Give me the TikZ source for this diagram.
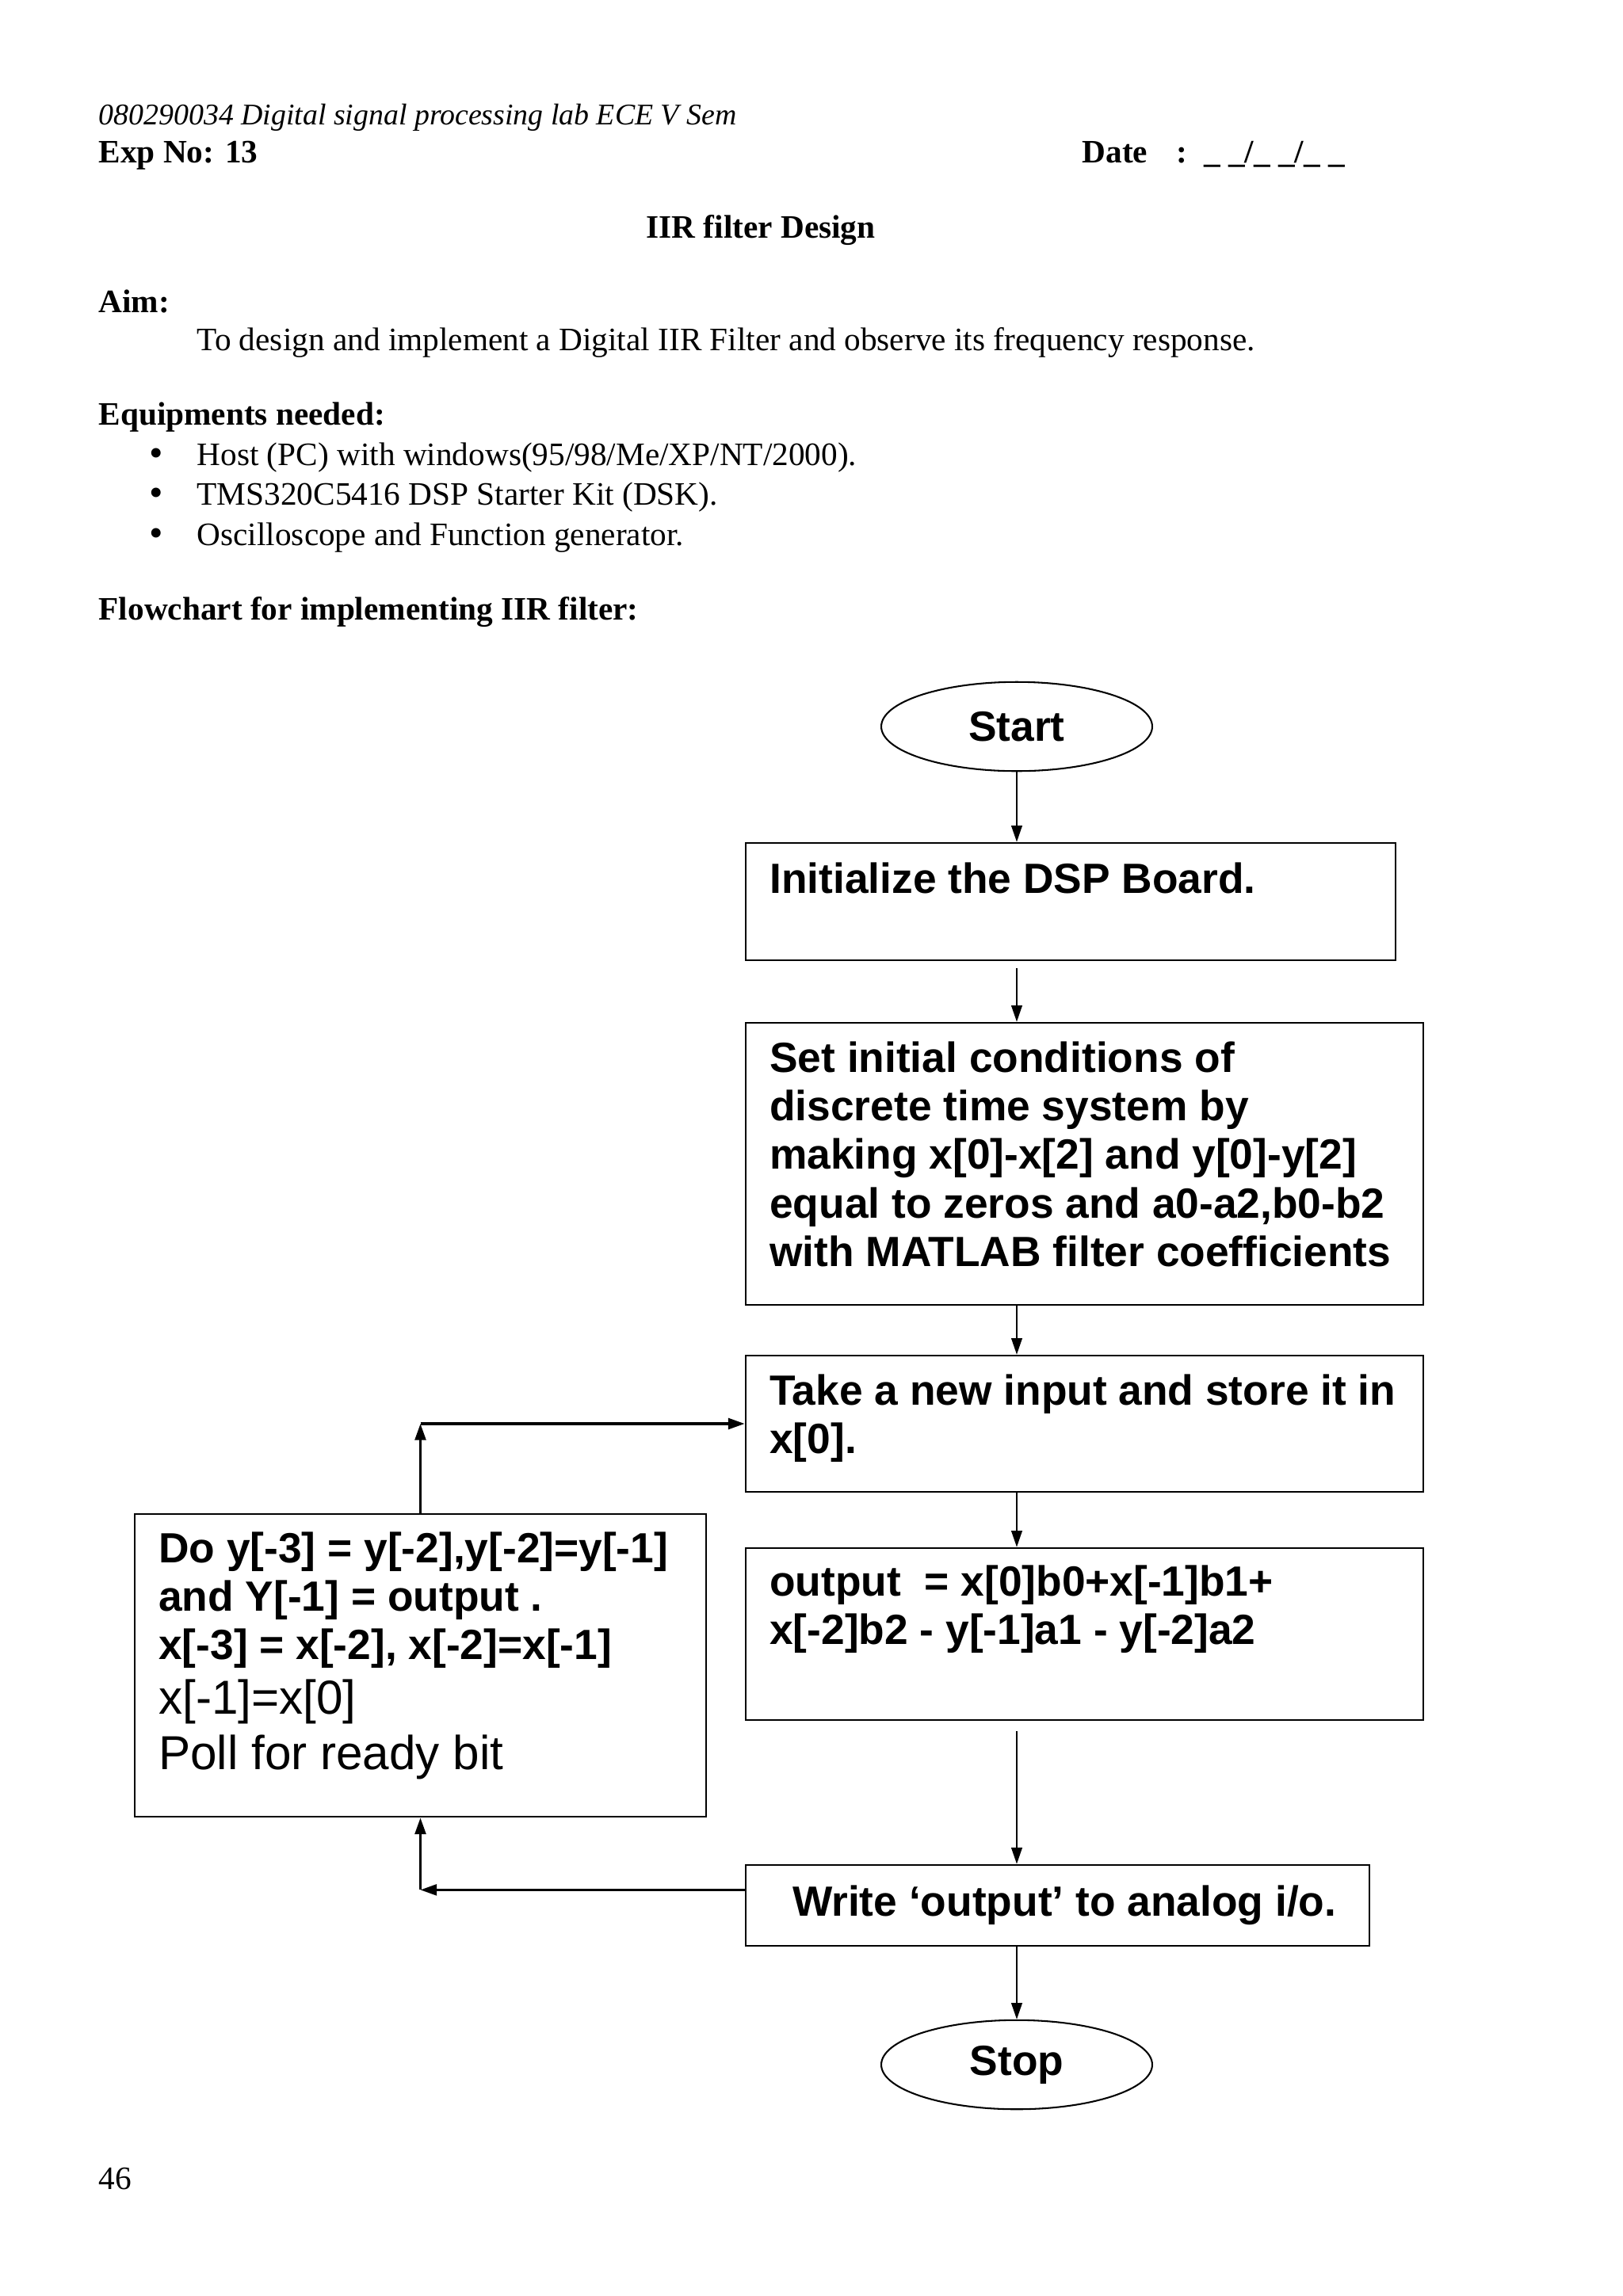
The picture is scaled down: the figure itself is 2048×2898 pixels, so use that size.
\documentclass[tikz,border=0pt]{standalone}
\usepackage{fontspec}
\setmainfont{Liberation Serif}
\newfontfamily\arial{Liberation Sans}
\usetikzlibrary{shapes.geometric,arrows.meta,fit}

\begin{document}
\begin{tikzpicture}[x=0.2907pt, y=-0.2907pt,
    page/.style={anchor=base west, inner sep=0, font=\fontsize{12}{14}\selectfont},
    fbox/.style={draw, line width=0.8pt, inner sep=0},
    oval/.style={draw, ellipse, line width=0.6pt, minimum width=99.4pt, minimum height=32.7pt,
      inner sep=0, font=\arial\bfseries\fontsize{15.5}{17.8}\selectfont},
    btxt/.style={anchor=north west, inner sep=0, align=left,
      font=\arial\bfseries\fontsize{15.5}{17.8}\selectfont},
    arr/.style={-{Triangle[length=6pt,width=4pt]}, line width=0.5pt},
    loopline/.style={arr, line width=0.9pt}]
  \useasboundingbox (0,0) rectangle (2048,2898);

  % page header and text
  \node[page, font=\itshape\fontsize{11}{13}\selectfont] (hdr) at (124,157) {080290034 Digital signal processing lab ECE V Sem};
  \node[page, font=\bfseries\fontsize{12}{14}\selectfont] (expno) at (124,205) {Exp No: 13};
  \node[page, font=\bfseries\fontsize{12}{14}\selectfont] (date) at (1365,205) {Date};
  \node[page, font=\bfseries\fontsize{12}{14}\selectfont] (datefill) at (1484,205) {:\enspace\_ \_/\_ \_/\_ \_};
  \node[page, anchor=base, font=\bfseries\fontsize{12}{14}\selectfont] (title) at (960,300) {IIR filter Design};
  \node[page, font=\bfseries\fontsize{12}{14}\selectfont] (aim) at (124,394) {Aim:};
  \node[page] (aimtxt) at (248,442) {To design and implement a Digital IIR Filter and observe its frequency response.};
  \node[page, font=\bfseries\fontsize{12}{14}\selectfont] (equip) at (124,536) {Equipments needed:};
  \foreach \item [count=\i from 0] in {Host (PC) with windows(95/98/Me/XP/NT/2000).,
      TMS320C5416 DSP Starter Kit (DSK).,
      Oscilloscope and Function generator.}{
    \node[page, anchor=base, font=\fontsize{14.5}{14.5}\selectfont] (bul\i) at (197,588+50.5*\i) {\textbullet};
    \node[page] (itm\i) at (248,587+50.5*\i) {\item};
  }
  \node[page, font=\bfseries\fontsize{12}{14}\selectfont] (flow) at (124,782) {Flowchart for implementing IIR filter:};
  \node[page] (pgno) at (124,2763) {46};

  % flowchart
  \node[oval] (start) at (1283,917) {Start};
  \node[fbox, fit={(941,1064) (1761,1212)}] (init) {};
  \node[fbox, fit={(941,1291) (1796,1647)}] (set) {};
  \node[fbox, fit={(941,1711) (1796,1883)}] (take) {};
  \node[fbox, fit={(941,1954) (1796,2171)}] (out) {};
  \node[fbox, fit={(941,2354) (1728,2456)}] (write) {};
  \node[oval] (stop) at (1283,2606) {Stop};
  \node[fbox, fit={(170,1911) (891,2293)}] (do) {};

  \node[btxt] (inittxt) at ([shift={(9pt,-7.4pt)}]init.north west) {Initialize the DSP Board.};
  \node[btxt] (settxt) at ([shift={(9pt,-7.1pt)}]set.north west) {Set initial conditions of\\ discrete time system by\\
    making x[0]-x[2] and y[0]-y[2]\\ equal to zeros and a0-a2,b0-b2\\ with MATLAB filter coefficients};
  \node[btxt] (taketxt) at ([shift={(9pt,-7.1pt)}]take.north west) {Take a new input and store it in\\ x[0].};
  \node[btxt] (outtxt) at ([shift={(9pt,-6.5pt)}]out.north west) {output\ \ = x[0]b0+x[-1]b1+\\ x[-2]b2 - y[-1]a1 - y[-2]a2};
  \node[btxt, anchor=base] (writetxt) at ([shift={(2.5pt,-3.9pt)}]write.center) {Write ‘output’ to analog i/o.};
  \node[btxt] (dotxt) at ([shift={(9pt,-6.7pt)}]do.north west) {Do y[-3] = y[-2],y[-2]=y[-1]\\ and Y[-1] = output .\\
    x[-3] = x[-2], x[-2]=x[-1]\\[2.2pt] {\mdseries\fontsize{17.5}{20}\selectfont x[-1]=x[0]}\\[2.7pt]
    {\mdseries\fontsize{17.5}{20}\selectfont Poll for ready bit}};

  \draw[arr] (start.south) -- (init.north -| start);
  \draw[arr, shorten <=2.5pt] (init.south -| start) -- (set.north -| start);
  \draw[arr] (set.south -| start) -- (take.north -| start);
  \draw[arr] (take.south -| start) -- (out.north -| start);
  \draw[arr, shorten <=3.8pt] (out.south -| start) -- (write.north -| start);
  \draw[arr] (write.south -| start) -- (stop.north);

  % feedback loop
  \path (do.south) ++(0,91) coordinate (lowturn);
  \coordinate (upturn) at (do.north |- take.west);
  \draw[loopline] (write.west |- lowturn) -- (lowturn);
  \draw[loopline] (lowturn) -- (do.south);
  \draw[loopline] (do.north) -- (upturn);
  \draw[loopline] (upturn) -- (take.west);
\end{tikzpicture}
\end{document}
